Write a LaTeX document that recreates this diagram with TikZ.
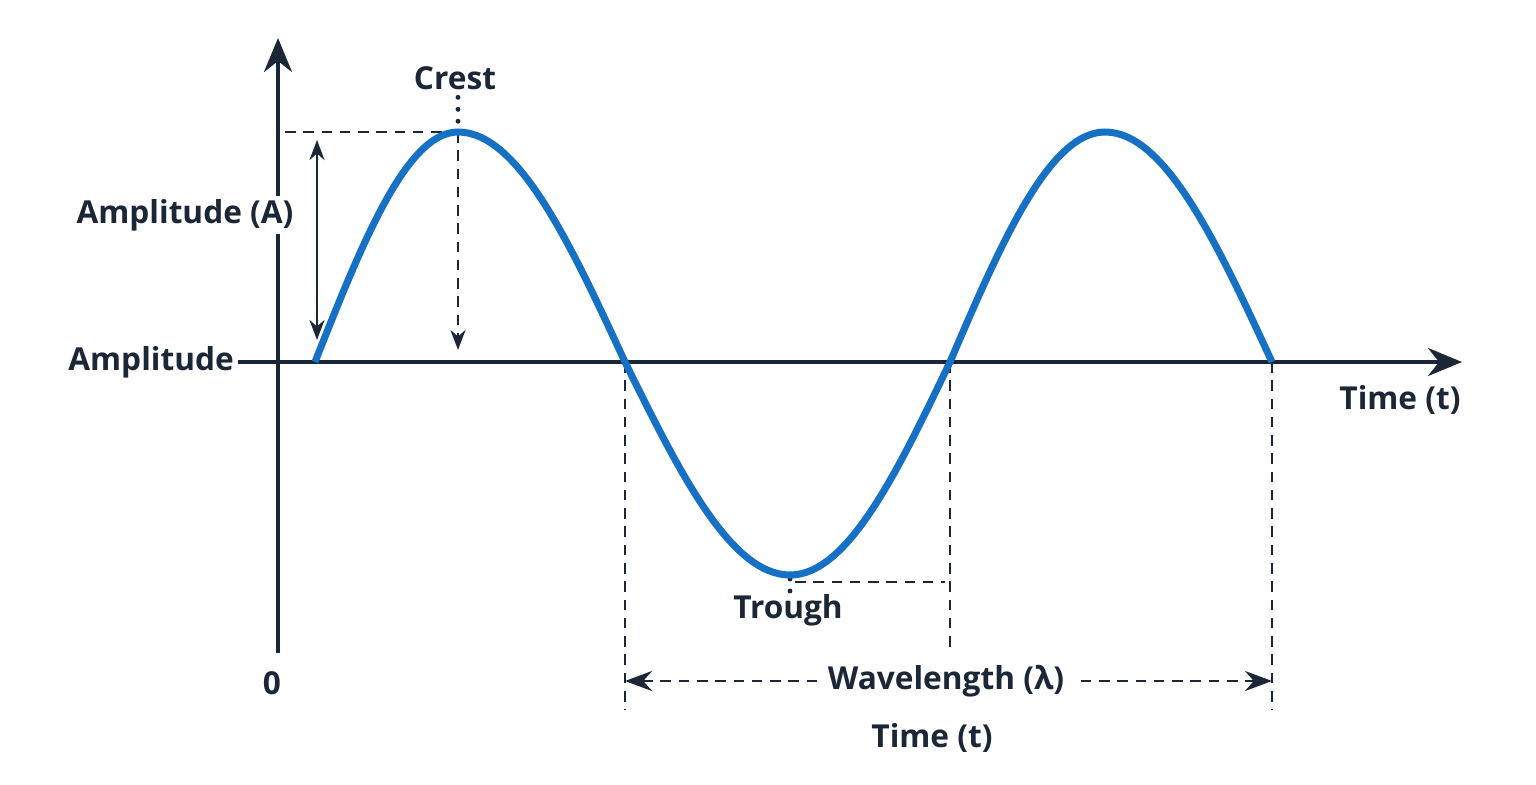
\documentclass[tikz,border=0pt]{standalone}
\usepackage{fontspec}
\setmainfont{Open Sans}
\usetikzlibrary{arrows.meta,positioning}
\definecolor{wavenavy}{RGB}{27,38,54}
\definecolor{waveblue}{RGB}{22,112,196}

\begin{document}
\begin{tikzpicture}[font=\fontsize{9}{11}\selectfont\bfseries, color=wavenavy,
      axis/.style={line width=1.2pt, -{Stealth[length=0.34cm, width=0.28cm]}},
      dimarrow/.style={line width=0.8pt,
                  {Stealth[length=0.2cm, width=0.15cm]}-{Stealth[length=0.2cm, width=0.15cm]}},
      guide/.style={line width=0.75pt, dash pattern=on 3pt off 2.2pt},
      dotline/.style={line width=1.4pt, line cap=round, dash pattern=on 0pt off 3.4pt},
      wave/.style={line width=2pt, waveblue},
      lbl/.style={inner sep=1pt, fill=white}]
    \useasboundingbox (0,0) rectangle (15.36,7.84);
    % points of the wave
    \coordinate (z0) at (3.15,4.22);
    \coordinate (c1) at (4.58,6.52);
    \coordinate (z1) at (6.25,4.22);
    \coordinate (tr) at (7.90,2.09);
    \coordinate (z2) at (9.50,4.22);
    \coordinate (c2) at (11.05,6.52);
    \coordinate (z3) at (12.72,4.22);
    % axes
    \coordinate (ybot) at (2.78,1.31);
    \coordinate (ytop) at (2.78,7.46);
    \coordinate (xend) at (14.62,4.22);
    \node[anchor=east, inner sep=1pt] (amp) at (2.38,4.22) {Amplitude};
    \draw[axis] (ybot) -- (ytop);
    \draw[axis] (amp.east) -- (xend);
    \node (zero) at (2.72,1.01) {0};
    \node (time) at (14.00,3.84) {Time (t)};
    \node[lbl] (ampA) at (1.85,5.69) {Amplitude (A)};
    % guides
    \coordinate (clvl) at (2.85,6.52);
    \coordinate (cdown) at (4.58,4.34);
    \coordinate (atop) at (3.17,6.44);
    \coordinate (abot) at (3.17,4.44);
    \draw[guide] (clvl) -- (c1);
    \draw[dimarrow] (atop) -- (abot);
    \draw[guide, -{Stealth[length=0.2cm, width=0.15cm]}] (c1) -- (cdown);
    \node[inner sep=1pt] (crest) at (4.55,7.06) {Crest};
    \draw[dotline] ([yshift=-1pt]crest.south -| c1) -- ([yshift=0.09cm]c1);
    \coordinate (d1) at (6.25,0.74);
    \coordinate (d2) at (9.50,1.34);
    \coordinate (d3) at (12.72,0.74);
    \draw[guide] (z1) -- (d1);
    \draw[guide] (z2) -- (d2);
    \draw[guide] (z3) -- (d3);
    \coordinate (tlvl1) at (7.95,2.02);
    \coordinate (tlvl2) at (9.45,2.02);
    \draw[guide] (tlvl1) -- (tlvl2);
    \node (trough) at (7.88,1.74) {Trough};
    \draw[dotline] ([yshift=-0.04cm]tr) -- ([yshift=-0.17cm]tr);
    % wavelength
    \coordinate (wlL) at (6.25,1.03);
    \coordinate (wlR) at (12.72,1.03);
    \draw[guide, {Stealth[length=0.27cm, width=0.2cm]}-{Stealth[length=0.27cm, width=0.2cm]}]
      (wlL) -- (wlR);
    \node[lbl, inner sep=3pt] (wl) at (9.46,1.03) {Wavelength (λ)};
    \node (time2) at (9.32,0.46) {Time (t)};
    % the wave
    \draw[wave] (z0) sin (c1) cos (z1) sin (tr) cos (z2) sin (c2) cos (z3);
  \end{tikzpicture}
\end{document}
